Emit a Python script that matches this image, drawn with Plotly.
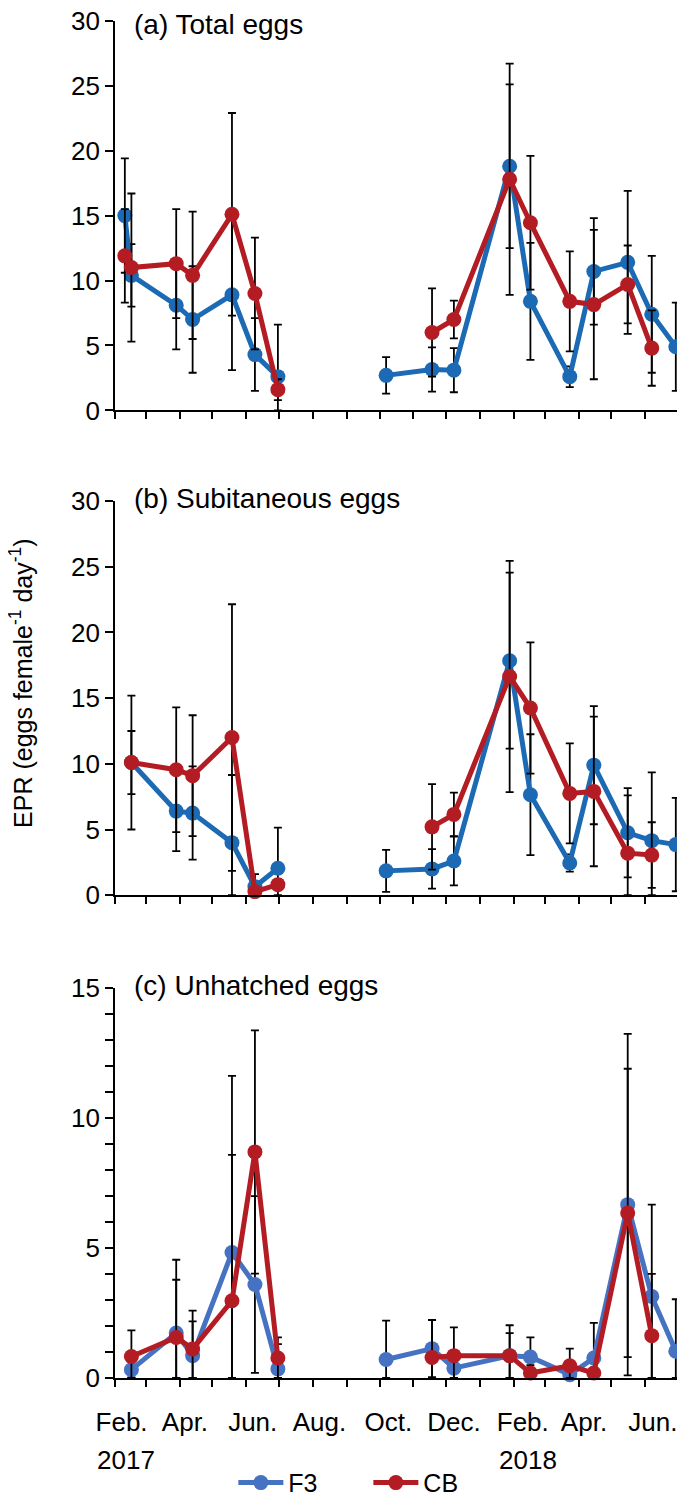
import plotly.graph_objects as go

# ---------------- data ----------------
# sampling dates (2017 campaign, 2017-18 campaign)
d1_full = ["2017-02-10", "2017-02-16", "2017-03-29", "2017-04-13", "2017-05-19", "2017-06-09", "2017-06-30"]
d1_short = d1_full[1:]
d2_f3 = ["2017-10-07", "2017-11-18", "2017-12-08", "2018-01-28", "2018-02-16", "2018-03-24",
         "2018-04-15", "2018-05-16", "2018-06-07", "2018-06-29"]
d2_cb = d2_f3[1:9]

# (a) Total eggs
a_f3_1 = [15.0, 10.4, 8.1, 7.0, 8.9, 4.3, 2.6]
a_f3_1_err = [4.4, 2.4, 3.4, 4.1, 5.8, 2.8, 4.0]
a_cb_1 = [11.9, 11.0, 11.3, 10.4, 15.1, 9.0, 1.6]
a_cb_1_err = [3.6, 5.7, 4.2, 4.9, 7.8, 4.3, 0.8]
a_f3_2 = [2.7, 3.15, 3.1, 18.8, 8.4, 2.6, 10.7, 11.4, 7.4, 4.9]
a_f3_2_err = [1.4, 1.7, 1.7, 6.3, 4.5, 0.8, 4.1, 5.5, 4.5, 3.4]
a_cb_2 = [6.0, 7.0, 17.8, 14.45, 8.4, 8.15, 9.7, 4.8]
a_cb_2_err = [3.4, 1.45, 8.9, 5.15, 3.85, 5.75, 3.0, 2.9]

# (b) Subitaneous eggs
b_f3_1 = [10.1, 6.4, 6.25, 4.0, 0.65, 2.05]
b_f3_1_err = [2.4, 3.05, 3.55, 5.15, 0.95, 3.1]
b_cb_1 = [10.1, 9.55, 9.1, 12.0, 0.27, 0.8]
b_cb_1_err = [5.1, 4.75, 4.6, 10.15, 0.3, 0.4]
b_f3_2 = [1.85, 2.0, 2.6, 17.85, 7.65, 2.45, 9.9, 4.75, 4.15, 3.85]
b_f3_2_err = [1.6, 1.5, 1.85, 6.7, 4.6, 0.65, 4.5, 3.4, 5.2, 3.55]
b_cb_2 = [5.2, 6.15, 16.65, 14.25, 7.75, 7.9, 3.2, 3.05]
b_cb_2_err = [3.25, 1.65, 8.8, 5.0, 3.8, 5.7, 4.4, 2.5]

# (c) Unhatched eggs
c_f3_1 = [0.32, 1.73, 0.86, 4.83, 3.6, 0.35]
c_f3_1_err = [0.3, 2.82, 1.32, 6.8, 3.4, 0.95]
c_cb_1 = [0.83, 1.56, 1.12, 2.97, 8.7, 0.77]
c_cb_1_err = [1.0, 2.22, 1.47, 5.62, 4.68, 0.79]
c_f3_2 = [0.71, 1.13, 0.38, 0.86, 0.81, 0.13, 0.77, 6.67, 3.14, 1.03]
c_f3_2_err = [1.5, 1.1, 0.4, 1.17, 0.75, 0.2, 1.35, 6.57, 3.53, 2.0]
c_cb_2 = [0.79, 0.86, 0.86, 0.19, 0.47, 0.19, 6.35, 1.63]
c_cb_2_err = [1.45, 1.09, 0.87, 0.3, 0.66, 0.2, 5.55, 2.38]

# axis labels
month_label_dates = ["2017-02-07", "2017-04-06", "2017-06-07", "2017-08-07", "2017-10-09",
                     "2017-12-08", "2018-02-09", "2018-04-06", "2018-06-08"]
month_labels = ["Feb.", "Apr.", "Jun.", "Aug.", "Oct.", "Dec.", "Feb.", "Apr.", "Jun."]
year_label_dates = ["2017-02-11", "2018-02-14"]
year_labels = ["2017", "2018"]
y_ticks_ab = [0, 5, 10, 15, 20, 25, 30]
y_ticks_c = list(range(0, 16))
y_ticktext_c = [str(v) if v % 5 == 0 else "" for v in y_ticks_c]
panel_titles = ["(a) Total eggs", "(b) Subitaneous eggs", "(c) Unhatched eggs"]
series_names = ["F3", "CB"]
y_title = "EPR (eggs female<sup>-1</sup> day<sup>-1</sup>)"

# ---------------- styling ----------------
FONT = "Arial, Liberation Sans, sans-serif"
BLUE_TOP = "#1C6AB4"
BLUE_BOT = "#4672C2"
RED = "#B41C24"
FS = 26

fig = go.Figure()


def add_series(x, y, err, color, name, xa, ya, showlegend):
    minus = [min(e, v) for e, v in zip(err, y)]
    fig.add_trace(go.Scatter(
        x=x, y=y, mode="lines+markers", name=name, legendgroup=name,
        showlegend=showlegend, xaxis=xa, yaxis=ya, cliponaxis=False,
        line=dict(color=color, width=5),
        marker=dict(color=color, size=15),
        error_y=dict(type="data", array=err, arrayminus=minus, color="black",
                     thickness=1.8, width=4),
    ))


panels = [
    ("x", "y", BLUE_TOP, [(d1_full, a_f3_1, a_f3_1_err), (d2_f3, a_f3_2, a_f3_2_err)],
     [(d1_full, a_cb_1, a_cb_1_err), (d2_cb, a_cb_2, a_cb_2_err)], False),
    ("x2", "y2", BLUE_TOP, [(d1_short, b_f3_1, b_f3_1_err), (d2_f3, b_f3_2, b_f3_2_err)],
     [(d1_short, b_cb_1, b_cb_1_err), (d2_cb, b_cb_2, b_cb_2_err)], False),
    ("x3", "y3", BLUE_BOT, [(d1_short, c_f3_1, c_f3_1_err), (d2_f3, c_f3_2, c_f3_2_err)],
     [(d1_short, c_cb_1, c_cb_1_err), (d2_cb, c_cb_2, c_cb_2_err)], True),
]

for xa, ya, blue, f3_parts, cb_parts, leg in panels:
    for i, (x, y, e) in enumerate(f3_parts):
        add_series(x, y, e, blue, series_names[0], xa, ya, leg and i == 0)
    for i, (x, y, e) in enumerate(cb_parts):
        add_series(x, y, e, RED, series_names[1], xa, ya, leg and i == 0)

x_range = ["2017-02-01", "2018-07-01"]
domains = [[0.7104, 0.9965], [0.3545, 0.6438], [0.0, 0.2862]]

common_x = dict(
    type="date", range=x_range, showline=True, linecolor="black", linewidth=1.6,
    showgrid=False, zeroline=False, ticks="", tickmode="array", automargin=False,
    ticklabeloverflow="allow",
    tickvals=month_label_dates, ticktext=month_labels,
    minor=dict(ticks="outside", ticklen=7, tickwidth=1.6, tickcolor="black",
               dtick="M1", tick0="2017-02-01", showgrid=False),
    tickfont=dict(family=FONT, size=FS, color="black"),
)
common_y = dict(
    showline=True, linecolor="black", linewidth=1.6, showgrid=False, zeroline=False,
    ticks="outside", ticklen=8, tickwidth=1.6, tickcolor="black", automargin=False,
    ticklabeloverflow="allow",
    tickfont=dict(family=FONT, size=FS, color="black"),
)

# page body has an 8px margin: size the figure so it fits the 685x1501 window
layout = dict(
    width=677, height=1493,
    margin=dict(l=107, r=7, t=8, b=123, autoexpand=False),
    plot_bgcolor="white", paper_bgcolor="white",
    font=dict(family=FONT, size=FS, color="black"),
    showlegend=True,
    legend=dict(orientation="h", x=0.45, xanchor="center", y=-0.077, yanchor="middle",
                font=dict(family=FONT, size=FS - 1, color="black"), itemwidth=45,
                entrywidth=75, tracegroupgap=0),
)
for k, (xa, ya) in enumerate([("xaxis", "yaxis"), ("xaxis2", "yaxis2"), ("xaxis3", "yaxis3")]):
    xd = dict(common_x)
    xd["domain"] = [0, 1]
    xd["anchor"] = "y" if k == 0 else f"y{k+1}"
    xd["showticklabels"] = (k == 2)
    xd["ticklabelstandoff"] = 20
    yd = dict(common_y)
    yd["domain"] = domains[k]
    yd["anchor"] = "x" if k == 0 else f"x{k+1}"
    if k < 2:
        yd.update(range=[0, 30], tickmode="array", tickvals=y_ticks_ab,
                  ticktext=[str(v) for v in y_ticks_ab])
    else:
        yd.update(range=[0, 15], tickmode="array", tickvals=y_ticks_c, ticktext=y_ticktext_c)
    layout[xa] = xd
    layout[ya] = yd

fig.update_layout(**layout)

# panel titles (the first one is nudged down so it stays inside the page)
for k, t in enumerate(panel_titles):
    yref = "y domain" if k == 0 else f"y{k+1} domain"
    xref = "x domain" if k == 0 else f"x{k+1} domain"
    if k == 0:
        fig.add_annotation(text=t, xref=xref, yref=yref, x=0.031, y=1.0, xanchor="left",
                           yanchor="top", yshift=14, showarrow=False,
                           font=dict(family=FONT, size=FS + 2, color="black"))
    else:
        fig.add_annotation(text=t, xref=xref, yref=yref, x=0.031, y=1.0, xanchor="left",
                           yanchor="middle", yshift=3, showarrow=False,
                           font=dict(family=FONT, size=FS + 2, color="black"))

# year labels
for d, t in zip(year_label_dates, year_labels):
    fig.add_annotation(text=t, x=d, xref="x3", yref="paper", y=-0.060, yanchor="middle",
                       xanchor="center", showarrow=False,
                       font=dict(family=FONT, size=FS, color="black"))

# y-axis title
fig.add_annotation(text=y_title, xref="paper", yref="paper", x=-0.166, y=0.510,
                   textangle=-90, showarrow=False, xanchor="center", yanchor="middle",
                   font=dict(family=FONT, size=FS - 1, color="black"))

fig.write_html("out.html")
